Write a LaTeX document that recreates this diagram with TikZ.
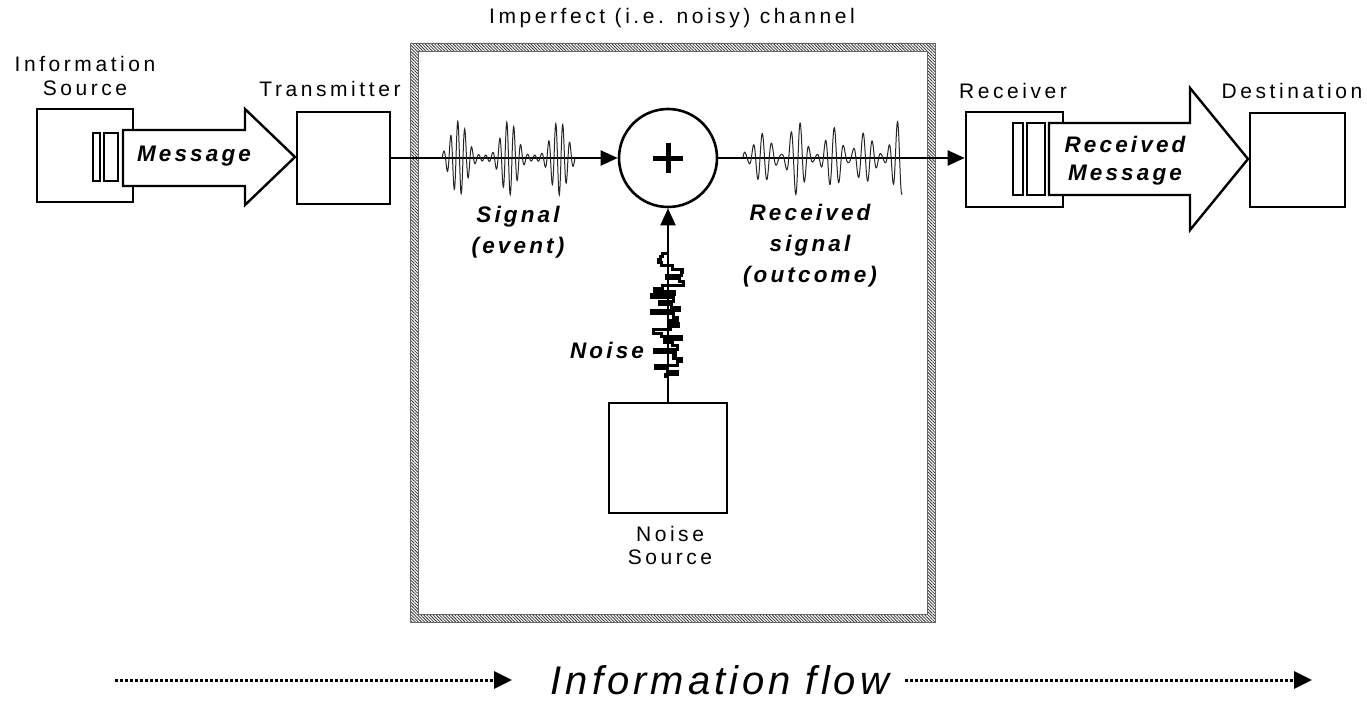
\documentclass[tikz,border=0pt]{standalone}
\usepackage{fontspec}
\setmainfont{Liberation Sans}
\newfontfamily\spacedfont[LetterSpace=17]{Liberation Sans}
\newfontfamily\italfont[LetterSpace=14]{Liberation Sans}
\newfontfamily\flowfont[LetterSpace=10]{Liberation Sans}
\usetikzlibrary{arrows.meta,patterns.meta}
\begin{document}
\begin{tikzpicture}[x=1pt,y=-1pt,
  box/.style={draw, line width=2.6pt, fill=white, inner sep=0pt},
  lab/.style={font=\spacedfont\fontsize{21}{24}\selectfont, align=center, inner sep=0pt},
  ilab/.style={font=\italfont\bfseries\itshape\fontsize{22.5}{31}\selectfont, align=center, inner sep=0pt},
  bigarrow/.style={draw, line width=2.4pt, fill=white, line join=miter},
  bar/.style={draw, line width=2pt, fill=white},
  mainline/.style={line width=2pt, -{Triangle[length=17pt,width=15pt]}},
  wave/.style={line width=1pt, black!85},
  dotarrow/.style={line width=3pt, dash pattern=on 2.5pt off 2.5pt, -{Triangle[length=18pt,width=17pt]}}
]
\useasboundingbox (0,0) rectangle (1367,717);

% channel hatched frame
\fill[pattern={Lines[angle=-45,distance=2.2pt,line width=0.8pt]}, pattern color=black!80, even odd rule]
  (410,43) rectangle (935,622) (418,51) rectangle (927,614);
\draw[black!60, line width=0.5pt] (410,43) rectangle (935,622) (418,51) rectangle (927,614);
\node[lab] (chl) at (672,18) {Imperfect (i.e. noisy) channel};

% boxes
\node[box, minimum width=96pt, minimum height=93pt] (src) at (85,155.5) {};
\node[box, minimum width=93pt, minimum height=92pt] (tx) at (343.5,158) {};
\node[box, minimum width=97pt, minimum height=95pt] (rx) at (1014.5,159.5) {};
\node[box, minimum width=95pt, minimum height=94pt] (dst) at (1297.5,160) {};
\node[box, minimum width=118pt, minimum height=110pt] (ns) at (668,458) {};
\node[circle, draw, line width=2.6pt, minimum size=98pt, inner sep=0pt, fill=white] (sum) at (668,158) {};
\draw[line width=5pt] (sum.center) ++(-15,0) -- ++(30,0);
\draw[line width=5pt] (sum.center) ++(0,-15) -- ++(0,30);

% message arrows
\draw[bigarrow] (123,130) -- (245,130) -- (245,109) -- (295,157) -- (245,205) -- (245,186) -- (123,186) -- cycle;
\draw[bar] (93,133) rectangle (100,181);
\draw[bar] (104,133) rectangle (118,181);
\draw[bigarrow] (1049,123) -- (1190,123) -- (1190,88) -- (1248,159) -- (1190,230) -- (1190,195) -- (1049,195) -- cycle;
\draw[bar] (1013,123) rectangle (1023,195);
\draw[bar] (1027,123) rectangle (1045,195);

% connectors
\draw[mainline] (tx.east) -- (sum.west);
\draw[mainline] (sum.east) -- (sum.east -| rx.west);
\draw[mainline] (ns.north) -- (sum.south);

% waveforms
\draw[wave] plot[domain=442:575, samples=500]
  (\x, {158 - 37*(0.08+0.92*(sin(3.6*(\x-434)))^4)*sin(51.4286*(\x-442))});
\draw[wave] plot[domain=743:902, samples=600]
  (\x, {158 - 38*(0.12+0.88*abs(sin(5.294*(\x-747)))^2)*(0.8+0.2*cos(7*(\x-743)))*sin(40*(\x-743) + 40*sin(5*(\x-743)))});

% noise
\pgfmathsetseed{11}
\draw[line width=3pt] plot[const plot, domain=253:378, samples=40] ({668+19*rand}, \x);

% labels
\node[lab] (srcl) at (85,76) {Information\\Source};
\node[lab] (txl) at (330,89) {Transmitter};
\node[lab] (rxl) at (1013,91) {Receiver};
\node[lab] (dstl) at (1292,91) {Destination};
\node[lab, font=\spacedfont\fontsize{21}{23}\selectfont] (nsl) at (670,545.5) {Noise\\Source};
\node[ilab] (msg) at (194,156) {Message};
\node[ilab, font=\italfont\bfseries\itshape\fontsize{22.5}{28}\selectfont] (rmsg) at (1125,161) {Received\\Message};
\node[ilab] (sigl) at (518,232) {Signal\\(event)};
\node[ilab] (rsl) at (810,246) {Received\\signal\\(outcome)};
\node[ilab] (nl) at (607,350) {Noise};

% information flow
\node[font=\flowfont\itshape\fontsize{40}{44}\selectfont, inner sep=0pt] (flow) at (720,680) {Information flow};
\coordinate (fl1) at (115,680);
\coordinate (fl2) at (512,680);
\coordinate (fr1) at (905,680);
\coordinate (fr2) at (1312,680);
\draw[dotarrow] (fl1) -- (fl2);
\draw[dotarrow] (fr1) -- (fr2);
\end{tikzpicture}
\end{document}
